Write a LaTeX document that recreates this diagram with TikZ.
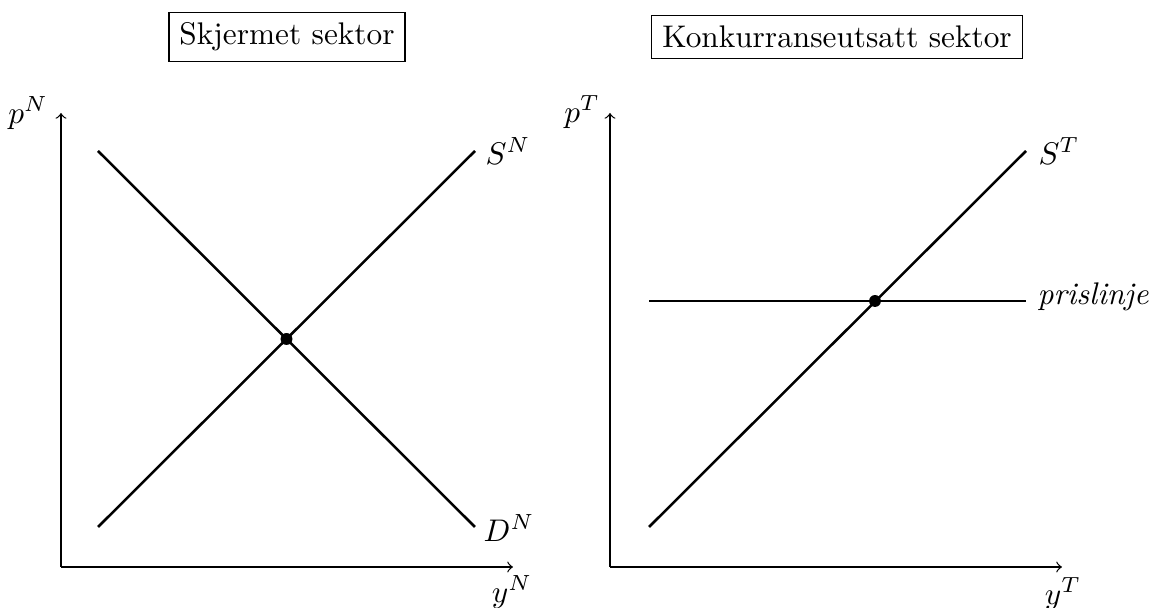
\documentclass[tikz,border=0pt]{standalone}
\begin{document}
\begin{tikzpicture}[x=0.3195pt,y=-0.3195pt,
  axis/.style={->,line width=0.4pt},
  curve/.style={line width=0.8pt},
  title/.style={draw,line width=0.4pt},
  lbl/.style={inner sep=0pt},
  eqdot/.style={circle,fill=black,inner sep=0pt,minimum size=3.8pt}]
\useasboundingbox (0,0) rectangle (1156,608);
% titles
\node[title] (tN) at (287,37) {Skjermet sektor};
\node[title] (tT) at (837,37) {Konkurranseutsatt sektor};
% left panel
\coordinate (oN) at (61,567);
\coordinate (yNtop) at (61,113);
\coordinate (xNend) at (513,567);
\draw[axis] (oN) -- (yNtop);
\draw[axis] (oN) -- (xNend);
\coordinate (sN0) at (98,527);
\coordinate (sN1) at (475,151);
\coordinate (dN0) at (98,151);
\coordinate (dN1) at (475,527);
\draw[curve] (sN0) -- (sN1);
\draw[curve] (dN0) -- (dN1);
\node[eqdot] (eN) at (286.5,339) {};
\node[lbl] (pN) at (28,113) {$p^N$};
\node[lbl] (yN) at (512,592) {$y^N$};
\node[lbl] (SN) at (508,151) {$S^N$};
\node[lbl] (DN) at (509,528) {$D^N$};
% right panel
\coordinate (oT) at (610,567);
\coordinate (yTtop) at (610,113);
\coordinate (xTend) at (1062,567);
\draw[axis] (oT) -- (yTtop);
\draw[axis] (oT) -- (xTend);
\coordinate (sT0) at (649,527);
\coordinate (sT1) at (1026,151);
\coordinate (pl0) at (649,301);
\coordinate (pl1) at (1026,301);
\draw[curve] (sT0) -- (sT1);
\draw[curve] (pl0) -- (pl1);
\node[eqdot] (eT) at (875,301) {};
\node[lbl] (pT) at (582,112) {$p^T$};
\node[lbl] (yT) at (1063,594) {$y^T$};
\node[lbl] (ST) at (1059,151) {$S^T$};
\node[lbl,anchor=west] (PL) at (1037,297) {\textit{prislinje}};
\end{tikzpicture}
\end{document}
